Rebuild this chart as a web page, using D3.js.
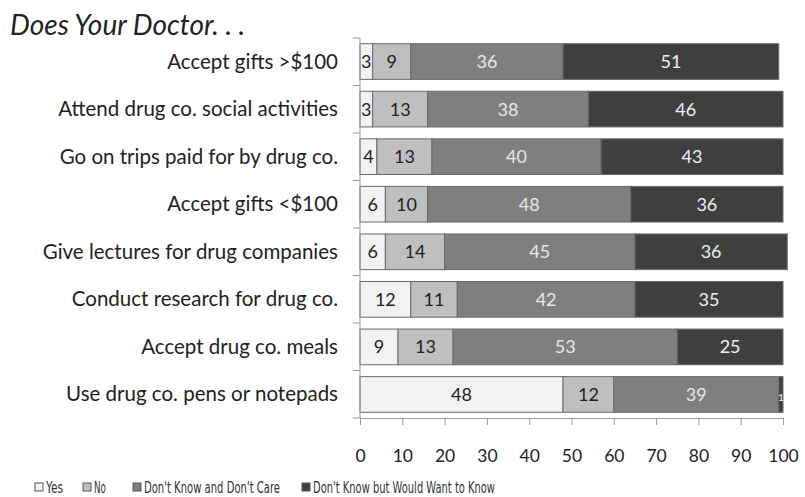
<!DOCTYPE html>
<html><head><meta charset="utf-8">
<script src="https://cdn.jsdelivr.net/npm/d3@7"></script>
<style>body{margin:0;background:#fff}</style>
</head><body><svg id="c" width="805" height="497"></svg>
<script>
const categories = ["Accept gifts >$100","Attend drug co. social activities","Go on trips paid for by drug co.","Accept gifts <$100","Give lectures for drug companies","Conduct research for drug co.","Accept drug co. meals","Use drug co. pens or notepads"];
const seriesNames = ["Yes","No","Don't Know and Don't Care","Don't Know but Would Want to Know"];
const yesVals = [3,3,4,6,6,12,9,48];
const noVals = [9,13,13,10,14,11,13,12];
const dkCareVals = [36,38,40,48,45,42,53,39];
const dkWantVals = [51,46,43,36,36,35,25,1];
const xTicks = [0,10,20,30,40,50,60,70,80,90,100];
const colors = ["#f2f2f2","#bfbfbf","#7f7f7f","#3f3f3f"];
const textColors = ["#222","#222","#e8e8e8","#f0f0f0"];
const font = "Lato, 'Open Sans', sans-serif";

const svg = d3.select("#c");
const x = d3.scaleLinear().domain([0,100]).range([360,783]);
const y = d3.scaleBand().domain(categories).range([38,418]).paddingInner(0.25).paddingOuter(0.12);

const rows = categories.map((c,i)=>({cat:c, vals:[yesVals[i],noVals[i],dkCareVals[i],dkWantVals[i]]}));
const segs = [];
rows.forEach(r=>{let acc=0; r.vals.forEach((v,k)=>{segs.push({cat:r.cat,k,v,x0:acc,x1:acc+v}); acc+=v;});});

svg.append("text").attr("x",10).attr("y",35).attr("font-family",font).attr("font-style","italic")
  .attr("font-size",28).attr("fill","#222").text("Does Your Doctor. . .");

const g = svg.append("g");
g.selectAll("rect").data(segs).join("rect")
  .attr("x",d=>x(d.x0)).attr("y",d=>y(d.cat)).attr("width",d=>x(d.x1)-x(d.x0)).attr("height",y.bandwidth())
  .attr("fill",d=>colors[d.k]).attr("stroke","#6a6a6a").attr("stroke-width",1);

g.selectAll("text.v").data(segs).join("text").attr("class","v")
  .attr("x",d=>(x(d.x0)+x(d.x1))/2).attr("y",d=>y(d.cat)+y.bandwidth()/2+6.5)
  .attr("text-anchor","middle").attr("font-family",font).attr("font-size",d=>d.v<2?10:18)
  .attr("fill",d=>textColors[d.k]).text(d=>d.v);

// category labels
svg.selectAll("text.c").data(categories).join("text").attr("class","c")
  .attr("x",338).attr("y",d=>y(d)+y.bandwidth()/2+7).attr("text-anchor","end")
  .attr("font-family",font).attr("font-size",20.5).attr("fill","#222").text(d=>d);

// y axis line + ticks at band boundaries
const yAxisG = svg.append("g");
yAxisG.append("line").attr("x1",360).attr("x2",360).attr("y1",38).attr("y2",418).attr("stroke","#999");
const bounds = d3.range(categories.length+1).map(i=>38+i*(380/categories.length));
yAxisG.selectAll("line.t").data(bounds).join("line").attr("class","t")
  .attr("x1",353).attr("x2",360).attr("y1",d=>d).attr("y2",d=>d).attr("stroke","#999");

// x axis
const xAxis = d3.axisBottom(x).tickValues(xTicks).tickSize(7).tickPadding(25);
const xg = svg.append("g").attr("transform","translate(0,418)").call(xAxis);
xg.select(".domain").attr("stroke","#999");
xg.selectAll(".tick line").attr("stroke","#999");
xg.selectAll("text").attr("font-family",font).attr("font-size",17.5).attr("fill","#222");

// legend
const legX = [35,83,133,302];
const legW = [17,12,136,182];
const lg = svg.append("g").attr("transform","translate(0,493)");
seriesNames.forEach((n,i)=>{
  lg.append("rect").attr("x",legX[i]).attr("y",-10).attr("width",8).attr("height",8)
    .attr("fill",colors[i]).attr("stroke","#555").attr("stroke-width",1);
  lg.append("text").attr("x",legX[i]+11).attr("y",0).attr("font-family","'Liberation Sans Narrow','DejaVu Sans Condensed',sans-serif")
    .attr("font-size",15).attr("fill","#333").attr("textLength",legW[i]).attr("lengthAdjust","spacingAndGlyphs").text(n);
});
</script></body></html>
